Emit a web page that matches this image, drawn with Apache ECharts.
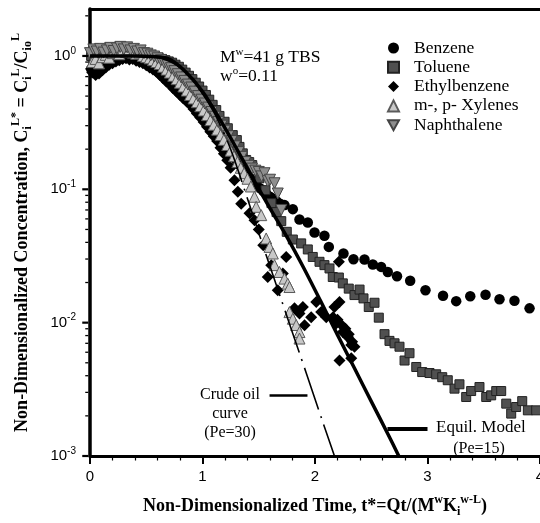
<!DOCTYPE html>
<html>
<head>
<meta charset="utf-8">
<script src="https://cdn.jsdelivr.net/npm/echarts@6/dist/echarts.min.js"></script>
<style>
  html, body { margin: 0; padding: 0; background: #fff; }
  #chart { width: 540px; height: 523px; }
</style>
</head>
<body>
<div id="chart"></div>
<script>
// Breakthrough of aromatic compounds from crude-oil contaminated soil (Mw = 41 g TBS)
// Each point: [non-dimensionalized time t*, non-dimensionalized concentration C*]

const benzene = [
  [0.01,0.80],[0.04,0.76],[0.07,0.78],[0.10,0.84],[0.13,0.88],[0.16,0.92],[0.19,0.95],[0.22,0.98],
  [0.25,1.0],[0.28,0.99],[0.31,1.02],[0.34,1.01],[0.37,1.0],[0.40,0.98],[0.43,0.97],[0.46,0.94],
  [0.49,0.93],[0.52,0.90],[0.55,0.87],[0.58,0.84],[0.61,0.80],[0.64,0.77],[0.67,0.73],[0.70,0.69],
  [0.73,0.65],[0.76,0.61],[0.79,0.58],[0.82,0.54],[0.85,0.51],[0.88,0.48],[0.91,0.45],[0.94,0.42],
  [0.97,0.39],[1.00,0.37],[1.03,0.34],[1.06,0.32],[1.09,0.29],[1.12,0.27],[1.15,0.25],[1.18,0.23],
  [1.21,0.21],[1.24,0.195],[1.27,0.18],[1.30,0.165],[1.33,0.152],[1.36,0.14],[1.39,0.13],[1.42,0.122],
  [1.45,0.115],[1.48,0.108],[1.51,0.102],[1.54,0.097],[1.57,0.092],[1.60,0.088],[1.63,0.085],[1.66,0.081],
  [1.69,0.078],[1.729,0.0761],[1.803,0.071],[1.862,0.0594],[1.936,0.0564],[1.996,0.0475],
  [2.084,0.0448],[2.123,0.037],[2.253,0.033],[2.342,0.0299],[2.44,0.0298],[2.514,0.0273],[2.588,0.0262],
  [2.647,0.024],[2.729,0.0223],[2.846,0.0206],[2.982,0.0175],[3.138,0.0159],[3.255,0.0145],[3.38,0.0158],
  [3.516,0.0162],[3.64,0.015],[3.773,0.0146],[3.907,0.0128]
];

const toluene = [
  [0.01,1.0],[0.04,0.96],[0.07,0.93],[0.10,0.97],[0.13,1.01],[0.16,1.04],[0.19,1.02],[0.22,1.06],
  [0.25,1.08],[0.28,1.05],[0.31,1.09],[0.34,1.07],[0.37,1.05],[0.40,1.08],[0.43,1.04],[0.46,1.03],
  [0.49,1.01],[0.52,1.02],[0.55,0.99],[0.58,0.98],[0.61,0.97],[0.64,0.95],[0.67,0.93],[0.70,0.91],
  [0.73,0.89],[0.76,0.86],[0.79,0.83],[0.82,0.79],[0.85,0.75],[0.88,0.71],[0.91,0.67],[0.94,0.63],
  [0.97,0.59],[1.00,0.55],[1.03,0.51],[1.06,0.47],[1.09,0.43],[1.122,0.393],[1.151,0.355],[1.196,0.321],
  [1.225,0.287],[1.269,0.255],[1.305,0.234],[1.329,0.208],[1.358,0.186],[1.388,0.166],[1.415,0.16],
  [1.442,0.152],[1.507,0.121],[1.56,0.0986],[1.613,0.0788],[1.658,0.0675],[1.7,0.0577],[1.749,0.048],
  [1.803,0.042],[1.877,0.0393],[1.936,0.0354],[1.98,0.0311],[2.04,0.0286],[2.084,0.027],[2.129,0.0255],
  [2.158,0.022],[2.212,0.0218],[2.247,0.0197],[2.3,0.018],[2.351,0.0161],[2.396,0.0177],[2.431,0.0152],
  [2.478,0.0131],[2.529,0.0141],[2.567,0.0109],[2.618,0.0082],[2.662,0.0073],[2.707,0.007],[2.751,0.0066],
  [2.796,0.0052],[2.84,0.0059],[2.9,0.00465],[2.953,0.00426],[3.018,0.00419],[3.077,0.0041],[3.131,0.0039],
  [3.18,0.0037],[3.24,0.0032],[3.284,0.00345],[3.344,0.00277],[3.388,0.00307],[3.462,0.00329],
  [3.522,0.00277],[3.566,0.00285],[3.611,0.00307],[3.655,0.00307],[3.7,0.00247],[3.744,0.00208],
  [3.788,0.00233],[3.842,0.00258],[3.892,0.0022],[3.966,0.0022]
];

const ethylbenzene = [
  [0.02,0.75],[0.05,0.72],[0.08,0.74],[0.11,0.78],[0.14,0.82],[0.17,0.86],[0.20,0.88],[0.23,0.91],
  [0.26,0.93],[0.29,0.95],[0.32,0.96],[0.35,0.94],[0.38,0.95],[0.41,0.92],[0.44,0.90],[0.47,0.88],
  [0.50,0.85],[0.53,0.82],[0.56,0.79],[0.59,0.76],[0.62,0.72],[0.65,0.68],[0.68,0.64],[0.71,0.61],
  [0.74,0.57],[0.77,0.54],[0.80,0.51],[0.83,0.48],[0.86,0.455],[0.89,0.43],[0.92,0.40],[0.95,0.37],
  [0.98,0.345],[1.01,0.32],[1.04,0.295],[1.07,0.27],[1.10,0.25],[1.13,0.23],[1.16,0.205],[1.19,0.185],
  [1.22,0.165],[1.25,0.145],[1.284,0.117],[1.314,0.096],[1.344,0.078],[1.418,0.066],[1.462,0.0587],
  [1.5,0.05],[1.54,0.038],[1.58,0.022],[1.611,0.027],[1.669,0.0175],[1.714,0.0234],[1.744,0.0311],
  [1.818,0.0128],[1.862,0.0117],[1.892,0.0131],[1.907,0.00955],[1.966,0.011],[2.011,0.0143],[2.055,0.012],
  [2.1,0.011],[2.16,0.011],[2.173,0.0131],[2.188,0.00985],[2.2,0.0105],[2.212,0.0286],[2.218,0.0143],
  [2.218,0.0052],[2.24,0.0095],[2.247,0.0085],[2.27,0.009],[2.292,0.0078],[2.3,0.0082],[2.322,0.0068],
  [2.322,0.0054],[2.33,0.0072],[2.351,0.0066]
];

const xylenes = [
  [0.02,0.90],[0.05,0.95],[0.08,0.88],[0.11,0.98],[0.14,1.02],[0.17,0.97],[0.20,1.05],[0.23,1.08],
  [0.26,1.03],[0.29,1.10],[0.32,1.07],[0.35,1.12],[0.38,1.06],[0.41,1.04],[0.44,1.06],[0.47,1.0],
  [0.50,0.98],[0.53,0.96],[0.56,0.93],[0.59,0.90],[0.62,0.87],[0.65,0.83],[0.68,0.79],[0.71,0.75],
  [0.74,0.71],[0.77,0.67],[0.80,0.63],[0.83,0.59],[0.86,0.55],[0.89,0.51],[0.92,0.48],[0.95,0.45],
  [0.98,0.42],[1.01,0.39],[1.04,0.36],[1.07,0.33],[1.10,0.305],[1.13,0.28],[1.16,0.255],[1.19,0.235],
  [1.22,0.215],[1.25,0.195],[1.28,0.177],[1.31,0.16],[1.34,0.145],[1.37,0.132],[1.40,0.12],[1.43,0.105],
  [1.462,0.0879],[1.477,0.0739],[1.522,0.064],[1.566,0.0428],[1.596,0.037],[1.625,0.033],[1.64,0.027],
  [1.684,0.024],[1.729,0.0214],[1.758,0.0196],[1.773,0.0185],[1.773,0.012],[1.803,0.0107],[1.833,0.0096],
  [1.862,0.0085],[1.862,0.0076]
];

const naphthalene = [
  [0.0,1.05],[0.03,1.12],[0.06,1.08],[0.09,1.13],[0.12,1.06],[0.15,1.10],[0.18,1.15],[0.21,1.09],
  [0.24,1.14],[0.27,1.17],[0.30,1.12],[0.33,1.16],[0.36,1.10],[0.39,1.13],[0.42,1.08],[0.45,1.10],
  [0.48,1.05],[0.51,1.04],[0.54,1.01],[0.57,0.99],[0.60,0.96],[0.63,0.93],[0.66,0.89],[0.69,0.85],
  [0.72,0.81],[0.75,0.77],[0.78,0.73],[0.81,0.69],[0.84,0.65],[0.87,0.61],[0.90,0.58],[0.93,0.54],
  [0.96,0.50],[0.99,0.47],[1.02,0.44],[1.05,0.41],[1.08,0.38],[1.11,0.35],[1.14,0.32],[1.17,0.30],
  [1.20,0.275],[1.23,0.25],[1.26,0.23],[1.29,0.21],[1.32,0.19],[1.35,0.175],[1.38,0.16],[1.41,0.15],
  [1.44,0.143],[1.47,0.138],[1.5,0.135],[1.525,0.125],[1.551,0.132],[1.58,0.115],[1.6,0.118],
  [1.64,0.111],[1.669,0.093],[1.7,0.07]
];

// Model curves
const equilModel = [
  [0,1.0],[0.2,1.0],[0.4,1.0],[0.55,0.99],[0.7,0.95],[0.85,0.76],[1.0,0.54],[1.15,0.34],[1.3,0.204],
  [1.45,0.12],[1.6,0.072],[1.75,0.044],[1.9,0.0257],[2.05,0.0145],[2.2,0.0081],[2.35,0.00457],
  [2.5,0.00257],[2.65,0.00145],[2.75,0.00098]
];
const crudeOilModel = [
  [0,1.0],[0.3,1.0],[0.5,0.99],[0.65,0.95],[0.8,0.82],[0.95,0.6],[1.1,0.38],[1.25,0.2],[1.4,0.085],
  [1.551,0.035],[1.7,0.0149],[1.862,0.0059],[1.922,0.0042],[2.069,0.0018],[2.173,0.001],[2.2,0.00085]
];

// Axis ticks (log concentration axis)
const yMajorTicks = [0.001, 0.01, 0.1, 1];
const yMinorTicks = [0.002,0.003,0.004,0.005,0.006,0.007,0.008,0.009,
                     0.02,0.03,0.04,0.05,0.06,0.07,0.08,0.09,
                     0.2,0.3,0.4,0.5,0.6,0.7,0.8,0.9, 2];

const SERIF = "'Liberation Serif', 'Times New Roman', serif";
const SANS = "'Liberation Sans', Arial, sans-serif";

// point-down triangle used for naphthalene in the legend
const DOWN_TRIANGLE = 'path://M0,0L10,0L5,9Z';

const chart = echarts.init(document.getElementById('chart'), null, { renderer: 'canvas' });

const titleRich = {
  t:   { fontFamily: SERIF, fontWeight: 'bold', fontSize: 18, lineHeight: 24, color: '#000' },
  sup: { fontFamily: SERIF, fontWeight: 'bold', fontSize: 12, lineHeight: 12, verticalAlign: 'top', color: '#000' },
  sub: { fontFamily: SERIF, fontWeight: 'bold', fontSize: 12, lineHeight: 12, verticalAlign: 'bottom', color: '#000' }
};

const option = {
  animation: false,
  backgroundColor: '#fff',
  grid: { left: 90, right: 0, top: 9, bottom: 67, containLabel: false, outerBoundsMode: 'none' },
  legend: {
    data: [
      { name: 'Benzene' },
      { name: 'Toluene' },
      { name: 'Ethylbenzene' },
      { name: 'm-, p- Xylenes' },
      { name: 'Naphthalene', icon: DOWN_TRIANGLE }
    ],
    orient: 'vertical',
    left: 382,
    top: 34,
    itemWidth: 11,
    itemHeight: 11,
    itemGap: 1.3,
    selectedMode: false,
    textStyle: { fontFamily: SERIF, fontSize: 17.5, color: '#000', lineHeight: 17, padding: [0, 0, 0, 10] }
  },
  xAxis: [{
    type: 'value', min: 0, max: 4, interval: 1,
    axisLine: { show: true, onZero: false, lineStyle: { color: '#000', width: 3 } },
    axisTick: { show: true, inside: false, length: 8, lineStyle: { color: '#000', width: 2 } },
    minorTick: { show: true, splitNumber: 5, length: 4.5, lineStyle: { color: '#000', width: 1.2 } },
    splitLine: { show: false },
    axisLabel: { margin: 13, fontFamily: SANS, fontSize: 15, color: '#000' },
    name: '{t|Non-Dimensionalized Time, t*=Qt/(M}{sup|w}{t|K}{sub|i}{sup|w-L}{t|)}',
    nameLocation: 'middle',
    nameGap: 38,
    nameTextStyle: { rich: titleRich }
  }, {
    type: 'value', position: 'top', min: 0, max: 4,
    axisLine: { show: true, onZero: false, lineStyle: { color: '#000', width: 3 } },
    axisTick: { show: false }, axisLabel: { show: false }, splitLine: { show: false }
  }],
  yAxis: {
    type: 'log', logBase: 10, min: 0.001, max: 2.25,
    axisLine: { show: true, onZero: false, lineStyle: { color: '#000', width: 3.5 } },
    axisTick: { show: false },
    splitLine: { show: false },
    axisLabel: {
      margin: 14,
      formatter: function (v) {
        const e = Math.round(Math.log10(v));
        if (Math.abs(Math.log10(v) - e) > 1e-6) return '';
        return '{b|10}{s|' + e + '}';
      },
      rich: {
        b: { fontFamily: SANS, fontSize: 15, lineHeight: 20, color: '#000' },
        s: { fontFamily: SANS, fontSize: 10, lineHeight: 10, verticalAlign: 'top', color: '#000' }
      }
    },
    name: '{t|Non-Dimensionalized Concentration, C}{sub|i}{sup|L*}{t| = C}{sub|i}{sup|L}{t|/C}{sub|io}{sup|L}',
    nameLocation: 'middle',
    nameRotate: 90,
    nameGap: 56,
    nameTextStyle: { rich: titleRich }
  },
  series: [
    {
      name: 'Benzene', type: 'scatter', data: benzene,
      symbol: 'circle', symbolSize: 10.5,
      itemStyle: { color: '#000', opacity: 1 }
    },
    {
      name: 'Toluene', type: 'scatter', data: toluene,
      symbol: 'rect', symbolSize: 9,
      itemStyle: { color: '#505050', borderColor: '#222', borderWidth: 1, opacity: 1 }
    },
    {
      name: 'Ethylbenzene', type: 'scatter', data: ethylbenzene,
      symbol: 'diamond', symbolSize: 12,
      itemStyle: { color: '#000', opacity: 1 }
    },
    {
      name: 'm-, p- Xylenes', type: 'scatter', data: xylenes,
      symbol: 'triangle', symbolSize: 11,
      itemStyle: { color: '#c8c8c8', borderColor: '#5a5a5a', borderWidth: 1, opacity: 1 }
    },
    {
      name: 'Naphthalene', type: 'scatter', data: naphthalene,
      symbol: 'triangle', symbolRotate: 180, symbolSize: 11,
      itemStyle: { color: '#8e8e8e', borderColor: '#444', borderWidth: 1, opacity: 1 }
    },
    {
      name: 'Equil. Model', type: 'line', data: equilModel, z: 4,
      showSymbol: false, smooth: 0.3, silent: true,
      lineStyle: { color: '#000', width: 3.5 },
      markLine: {
        silent: true, symbol: ['none', 'none'], label: { show: false },
        lineStyle: { color: '#000', width: 4, type: 'solid' },
        data: [[{ coord: [2.644, 0.00161] }, { coord: [3.0, 0.00161] }]]
      }
    },
    {
      name: 'Crude oil curve', type: 'line', data: crudeOilModel, z: 4,
      showSymbol: false, smooth: 0.3, silent: true,
      lineStyle: { color: '#000', width: 1.6, type: [44, 7, 2, 7] },
      markLine: {
        silent: true, symbol: ['none', 'none'], label: { show: false },
        lineStyle: { color: '#000', width: 2.5, type: 'solid' },
        data: [[{ coord: [1.596, 0.00285] }, { coord: [1.933, 0.00285] }]]
      }
    },
    {
      name: 'yTicks', type: 'custom', coordinateSystem: 'cartesian2d', clip: false, silent: true, z: 6,
      encode: { x: 0, y: 1 },
      data: yMajorTicks.map(v => [0, v, 6]).concat(yMinorTicks.map(v => [0, v, 3])),
      renderItem: function (params, api) {
        const p = api.coord([api.value(0), api.value(1)]);
        const len = api.value(2);
        const x0 = p[0] - 1.75;
        return {
          type: 'line',
          shape: { x1: x0 - len, y1: p[1], x2: x0, y2: p[1] },
          style: { stroke: '#000', lineWidth: len > 4 ? 2.2 : 1.3 }
        };
      }
    }
  ],
  graphic: [
    {
      type: 'text', x: 220, y: 57, silent: true,
      style: {
        text: '{a|M}{s|w}{a|=41 g TBS}', verticalAlign: 'middle', fill: '#000',
        rich: {
          a: { fontFamily: SERIF, fontSize: 17.5, lineHeight: 20 },
          s: { fontFamily: SERIF, fontSize: 11, lineHeight: 11, verticalAlign: 'top' }
        }
      }
    },
    {
      type: 'text', x: 220, y: 76, silent: true,
      style: {
        text: '{a|w}{s|o}{a|=0.11}', verticalAlign: 'middle', fill: '#000',
        rich: {
          a: { fontFamily: SERIF, fontSize: 17.5, lineHeight: 20 },
          s: { fontFamily: SERIF, fontSize: 11, lineHeight: 11, verticalAlign: 'top' }
        }
      }
    },
    {
      type: 'text', x: 230, y: 414, silent: true,
      style: {
        text: 'Crude oil\ncurve\n(Pe=30)', align: 'center', verticalAlign: 'middle',
        fontFamily: SERIF, fontSize: 16, lineHeight: 19, fill: '#000'
      }
    },
    {
      type: 'text', x: 436, y: 428, silent: true,
      style: {
        text: 'Equil. Model', align: 'left', verticalAlign: 'middle',
        fontFamily: SERIF, fontSize: 17, fill: '#000'
      }
    },
    {
      type: 'text', x: 479, y: 449, silent: true,
      style: {
        text: '(Pe=15)', align: 'center', verticalAlign: 'middle',
        fontFamily: SERIF, fontSize: 16, fill: '#000'
      }
    }
  ]
};

chart.setOption(option);
</script>
</body>
</html>
